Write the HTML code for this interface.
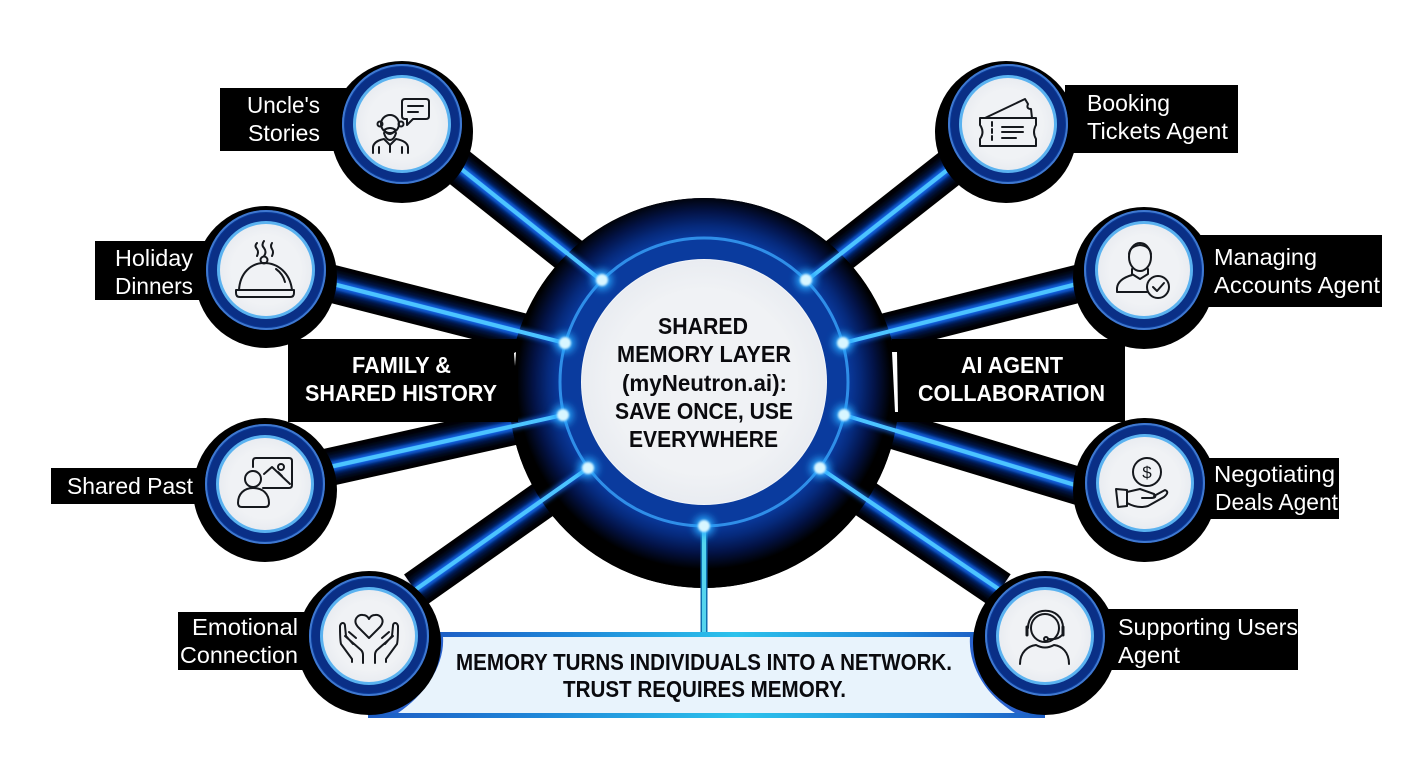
<!DOCTYPE html>
<html lang="en">
<head>
<meta charset="utf-8">
<title>Shared Memory Layer</title>
<style>
html,body{margin:0;padding:0;background:#fff;width:1408px;height:768px;overflow:hidden}
svg{display:block}
text{font-family:"Liberation Sans",sans-serif}
.l{fill:#fff;font-size:23px}
.h{fill:#fff;font-size:23px;font-weight:700}
.c{fill:#0a0a0e;font-size:23px;font-weight:700}
.i{fill:none;stroke:#15181d;stroke-width:2;stroke-linecap:round;stroke-linejoin:round}
</style>
</head>
<body>
<svg width="1408" height="768" viewBox="0 0 1408 768" xmlns="http://www.w3.org/2000/svg">
<defs>
<filter id="b2" x="-30%" y="-30%" width="160%" height="160%"><feGaussianBlur stdDeviation="2"/></filter>
<filter id="b4" x="-30%" y="-30%" width="160%" height="160%"><feGaussianBlur stdDeviation="4"/></filter>
<filter id="b1" x="-30%" y="-30%" width="160%" height="160%"><feGaussianBlur stdDeviation="1"/></filter>
<radialGradient id="core" gradientUnits="userSpaceOnUse" cx="704" cy="382" r="208">
<stop offset="0.69" stop-color="#0a3a9e"/>
<stop offset="0.75" stop-color="#062a7c"/>
<stop offset="0.82" stop-color="#031347"/>
<stop offset="0.90" stop-color="#000"/>
</radialGradient>
<radialGradient id="disc" cx="50%" cy="50%" r="50%">
<stop offset="0.75" stop-color="#f0f2f5"/>
<stop offset="1" stop-color="#e9ecf1"/>
</radialGradient>
<linearGradient id="bar" x1="0" x2="1" y1="0" y2="0">
<stop offset="0" stop-color="#1d5cc4"/>
<stop offset="0.25" stop-color="#1f86d8"/>
<stop offset="0.55" stop-color="#2cc2ec"/>
<stop offset="0.85" stop-color="#1f86d8"/>
<stop offset="1" stop-color="#1d5cc4"/>
</linearGradient>
<g id="tube-lines">
<path d="M450 160L602 281M325 282L565 343M325 468L563 415M415 590L588 468M960 160L806 281M1085 282L843 343M1085 488L844 415M1000 590L820 468"/>
</g>
<g id="node">
<circle r="60" fill="#0a3a98"/>
<circle r="59" fill="none" stroke="#3f78d0" stroke-width="2"/>
<circle r="53" fill="none" stroke="#0a2f86" stroke-width="8"/>
<circle r="49" fill="#5ab2f0"/>
<circle r="46" fill="url(#disc)"/>
</g>
</defs>

<rect width="1408" height="768" fill="#fff"/>

<!-- banner -->
<path d="M430 632H985V638C975 665 992 695 1030 714H380C416 695 445 665 430 632Z" fill="#2a62cc"/>
<path d="M443 637H970C968 665 985 695 1015 713H398C425 695 445 665 443 637Z" fill="#e8f3fc"/>
<path d="M430 632H985V637H430Z" fill="url(#bar)"/>
<path d="M368 713H1045V718H368Z" fill="url(#bar)"/>

<!-- tubes -->
<use href="#tube-lines" fill="none" stroke="#000" stroke-width="38"/>
<use href="#tube-lines" fill="none" stroke="#06206e" stroke-width="20" filter="url(#b4)"/>
<use href="#tube-lines" fill="none" stroke="#1466e6" stroke-width="8" filter="url(#b2)"/>
<use href="#tube-lines" fill="none" stroke="#4cc4ff" stroke-width="4.5"/>
<use href="#tube-lines" fill="none" stroke="#b0eeff" stroke-width="1.5"/>

<!-- central hub -->
<circle cx="704" cy="393" r="195" fill="#000"/>
<circle cx="704" cy="393" r="195" fill="url(#core)"/>
<use href="#tube-lines" fill="none" stroke="#1466e6" stroke-width="8" filter="url(#b2)" opacity=".7"/>
<use href="#tube-lines" fill="none" stroke="#4cc4ff" stroke-width="4"/>
<circle cx="704" cy="382" r="144" fill="#0a3b9e" stroke="#2f8ee8" stroke-width="3"/>
<circle cx="704" cy="382" r="123" fill="#f2f5f9"/>
<circle cx="704" cy="382" r="122" fill="url(#disc)"/>

<!-- bottom connector -->
<path d="M704 526V632" stroke="#0f6fb0" stroke-width="7" fill="none"/>
<path d="M704 526V632" stroke="#55d5ee" stroke-width="4" fill="none"/>

<!-- dots -->
<g>
<g fill="#27a7ff" filter="url(#b4)" opacity=".95">
<circle cx="602" cy="280" r="10"/><circle cx="565" cy="343" r="10"/><circle cx="563" cy="415" r="10"/><circle cx="588" cy="468" r="10"/>
<circle cx="806" cy="280" r="10"/><circle cx="843" cy="343" r="10"/><circle cx="844" cy="415" r="10"/><circle cx="820" cy="468" r="10"/><circle cx="704" cy="526" r="10"/>
</g>
<g fill="#d8f6ff" filter="url(#b1)">
<circle cx="602" cy="280" r="6"/><circle cx="565" cy="343" r="6"/><circle cx="563" cy="415" r="6"/><circle cx="588" cy="468" r="6"/>
<circle cx="806" cy="280" r="6"/><circle cx="843" cy="343" r="6"/><circle cx="844" cy="415" r="6"/><circle cx="820" cy="468" r="6"/><circle cx="704" cy="526" r="6"/>
</g>
</g>

<!-- label boxes -->
<g fill="#000">
<rect x="220" y="88" width="130" height="63"/>
<rect x="95" y="241" width="110" height="59"/>
<rect x="51" y="468" width="150" height="36"/>
<rect x="178" y="612" width="130" height="58"/>
<rect x="1065" y="85" width="173" height="68"/>
<rect x="1200" y="235" width="182" height="72"/>
<rect x="1200" y="458" width="139" height="61"/>
<rect x="1100" y="609" width="198" height="61"/>
<rect x="288" y="339" width="230" height="83"/>
<rect x="892" y="339" width="233" height="83"/>
</g>
<path d="M514 353L516 352L515 366Z" fill="#fff"/>
<path d="M892 352H897L898 412H895Z" fill="#fff"/>

<!-- nodes -->
<g fill="#000">
<circle cx="402" cy="132" r="71"/>
<circle cx="266" cy="277" r="71"/>
<circle cx="265" cy="490" r="72"/>
<circle cx="369" cy="643" r="72"/>
<circle cx="1006" cy="132" r="71"/>
<circle cx="1144" cy="278" r="71"/>
<circle cx="1145" cy="490" r="72"/>
<circle cx="1045" cy="643" r="72"/>
</g>
<use href="#node" x="402" y="124"/>
<use href="#node" x="266" y="270"/>
<use href="#node" x="265" y="484"/>
<use href="#node" x="369" y="636"/>
<use href="#node" x="1008" y="124"/>
<use href="#node" x="1144" y="270"/>
<use href="#node" x="1145" y="483"/>
<use href="#node" x="1045" y="636"/>

<!-- icons -->
<g class="i">
<!-- uncle -->
<path d="M405 99H426Q429 99 429 102V116Q429 119 426 119H413L407 125V119H405Q402 119 402 116V102Q402 99 405 99Z"/>
<path d="M408 106H423M408 112H418"/>
<circle cx="390" cy="124" r="9"/>
<circle cx="380" cy="124" r="2.5"/><circle cx="401" cy="124" r="2.5"/>
<path d="M384 130Q390 126 396 130Q392 134 390 134Q387 134 384 130ZM384 133Q386 140 390 140Q394 140 396 133"/>
<path d="M373 153V147Q374 141 384 139L390 145L396 139Q407 141 408 147V153M379 147V153M402 147V153M390 145V152"/>
<!-- holiday -->
<path d="M257 243Q254 246 257 249Q259 252 257 256M264 241Q261 245 264 248Q267 252 264 256M272 243Q270 246 272 249Q274 252 272 256"/>
<circle cx="264" cy="260" r="3.5"/>
<path d="M239 290C240 273 251 263 264 263C278 263 290 273 292 290"/>
<path d="M236 290H294V293Q294 297 290 297H240Q236 297 236 293Z"/>
<path d="M276 269Q283 274 285 282"/>
<!-- shared past -->
<path d="M253 467V461Q253 458 256 458H289Q292 458 292 461V485Q292 488 289 488H263"/>
<circle cx="253" cy="479" r="8"/>
<path d="M238 503C238 494 244 488 253 488C263 488 269 494 269 503Q269 507 265 507H242Q238 507 238 503Z"/>
<path d="M264 474L272 467L290 484M278 472L282 476"/>
<circle cx="281" cy="467" r="3"/>
<!-- emotional -->
<path d="M369 638L358 627C352 620 358 614 363 615C366 615 368 617 369 619C370 617 372 615 375 615C380 614 386 620 380 627Z"/>
<path d="M352 662V659L341 644C340 640 340 630 340 626C341 622 345 622 345 626L346 636L353 644M345 636L361 650Q363 652 363 655V663M349 632L356 638"/>
<path d="M386 662V659L397 644C398 640 398 630 398 626C397 622 393 622 393 626L392 636L385 644M393 636L377 650Q375 652 375 655V663M389 632L382 638"/>
<!-- booking -->
<path d="M980 118H1036V125Q1032 132 1036 139V146H980V139Q985 132 980 125Z"/>
<path d="M985 118L1025 99L1028 104Q1026 109 1031 109L1032 118"/>
<path d="M992 122V142" stroke-dasharray="4 3"/>
<path d="M1002 127H1023M1002 132H1023M1002 138H1016"/>
<!-- managing -->
<ellipse cx="1140" cy="257" rx="11" ry="14"/>
<path d="M1129 254Q1130 246 1140 245Q1150 246 1151 254M1132 269V274L1140 279L1148 274V269"/>
<path d="M1132 275Q1118 279 1117 288V292H1147"/>
<circle cx="1158" cy="287" r="11"/>
<path d="M1153 287L1157 291L1164 283"/>
<!-- negotiating -->
<circle cx="1147" cy="472" r="14"/>
<path d="M1116 489L1127 490V506L1118 507Z"/>
<path d="M1127 492L1140 489L1154 494Q1158 498 1150 498H1142M1154 496L1165 490Q1170 492 1164 497L1148 506Q1138 509 1127 503"/>
<!-- supporting -->
<circle cx="1045" cy="628" r="14"/>
<path d="M1028 628C1028 605 1063 605 1063 628"/>
<path d="M1027 627V635M1063 627V635" stroke-width="3"/>
<path d="M1062 635Q1058 640 1049 639"/>
<circle cx="1046" cy="639" r="2"/>
<path d="M1020 664C1020 652 1028 646 1036 645Q1045 650 1054 645C1062 646 1069 652 1069 664"/>
</g>
<text x="1147" y="478" text-anchor="middle" font-size="17" fill="#15181d">$</text>

<!-- label text -->
<g class="l">
<text class="l" x="247" y="113" textLength="73" lengthAdjust="spacingAndGlyphs">Uncle's</text>
<text class="l" x="248" y="141" textLength="72" lengthAdjust="spacingAndGlyphs">Stories</text>
<text class="l" x="115" y="266" textLength="78" lengthAdjust="spacingAndGlyphs">Holiday</text>
<text class="l" x="115" y="294" textLength="78" lengthAdjust="spacingAndGlyphs">Dinners</text>
<text class="l" x="67" y="494" textLength="126" lengthAdjust="spacingAndGlyphs">Shared Past</text>
<text class="l" x="192" y="635" textLength="106" lengthAdjust="spacingAndGlyphs">Emotional</text>
<text class="l" x="180" y="663" textLength="118" lengthAdjust="spacingAndGlyphs">Connection</text>
<text class="l" x="1087" y="111" textLength="83" lengthAdjust="spacingAndGlyphs">Booking</text>
<text class="l" x="1087" y="139" textLength="141" lengthAdjust="spacingAndGlyphs">Tickets Agent</text>
<text class="l" x="1214" y="265" textLength="103" lengthAdjust="spacingAndGlyphs">Managing</text>
<text class="l" x="1214" y="293" textLength="166" lengthAdjust="spacingAndGlyphs">Accounts Agent</text>
<text class="l" x="1214" y="482" textLength="121" lengthAdjust="spacingAndGlyphs">Negotiating</text>
<text class="l" x="1215" y="510" textLength="123" lengthAdjust="spacingAndGlyphs">Deals Agent</text>
<text class="l" x="1118" y="635" textLength="180" lengthAdjust="spacingAndGlyphs">Supporting Users</text>
<text class="l" x="1118" y="663" textLength="62" lengthAdjust="spacingAndGlyphs">Agent</text>
</g>
<text class="h" x="352" y="373" textLength="99" lengthAdjust="spacingAndGlyphs">FAMILY &amp;</text>
<text class="h" x="305" y="401" textLength="192" lengthAdjust="spacingAndGlyphs">SHARED HISTORY</text>
<text class="h" x="961" y="373" textLength="102" lengthAdjust="spacingAndGlyphs">AI AGENT</text>
<text class="h" x="918" y="401" textLength="187" lengthAdjust="spacingAndGlyphs">COLLABORATION</text>

<!-- center text -->
<text class="c" x="658" y="334" textLength="90" lengthAdjust="spacingAndGlyphs">SHARED</text>
<text class="c" x="617" y="362" textLength="174" lengthAdjust="spacingAndGlyphs">MEMORY LAYER</text>
<text class="c" x="622" y="391" textLength="165" lengthAdjust="spacingAndGlyphs">(myNeutron.ai):</text>
<text class="c" x="615" y="419" textLength="178" lengthAdjust="spacingAndGlyphs">SAVE ONCE, USE</text>
<text class="c" x="629" y="447" textLength="149" lengthAdjust="spacingAndGlyphs">EVERYWHERE</text>

<!-- banner text -->
<text class="c" x="456" y="670" textLength="496" lengthAdjust="spacingAndGlyphs">MEMORY TURNS INDIVIDUALS INTO A NETWORK.</text>
<text class="c" x="563" y="697" textLength="283" lengthAdjust="spacingAndGlyphs">TRUST REQUIRES MEMORY.</text>
</svg>
</body>
</html>
